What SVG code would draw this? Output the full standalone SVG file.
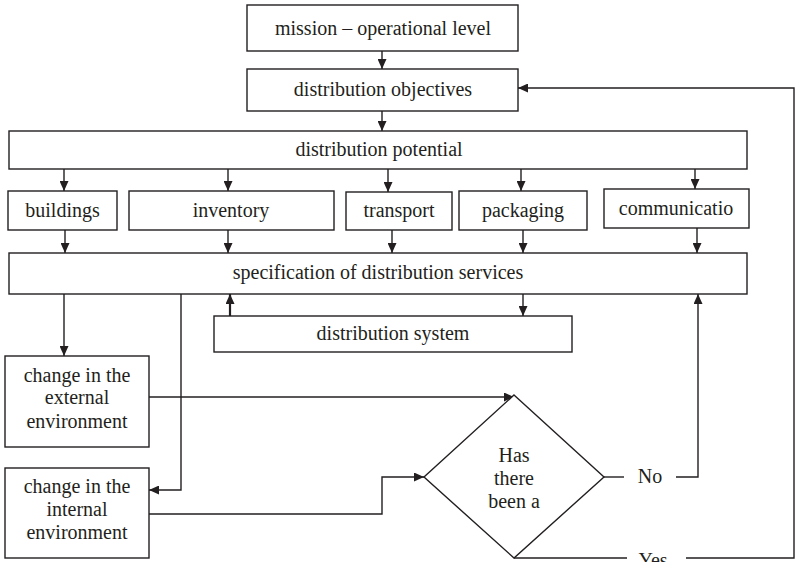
<svg xmlns="http://www.w3.org/2000/svg" width="796" height="562" viewBox="0 0 796 562">
<defs>
<marker id="ah" markerUnits="userSpaceOnUse" markerWidth="10" markerHeight="9" refX="10" refY="4.5" orient="auto">
<path d="M0,0 L10,4.5 L0,9 z" fill="#231f20"/>
</marker>
<style>
.box{fill:#fff;stroke:#231f20;stroke-width:1.4}
.t{font-family:'Liberation Serif','DejaVu Serif','Times New Roman',serif;font-size:20px;fill:#231f20;text-anchor:middle}
.c{fill:none;stroke:#231f20;stroke-width:1.4}
.ca{fill:none;stroke:#231f20;stroke-width:1.4;marker-end:url(#ah)}
</style>
</defs>
<rect width="796" height="562" fill="#fff"/>
<g id="connectors">
<path class="ca" d="M382,51 V69"/>
<path class="ca" d="M382,111 V131"/>
<path class="ca" d="M64,169 V191"/>
<path class="ca" d="M228,169 V191"/>
<path class="ca" d="M388,169 V192"/>
<path class="ca" d="M521,169 V191"/>
<path class="ca" d="M695,169 V189"/>
<path class="ca" d="M65,230 V253"/>
<path class="ca" d="M228,230 V253"/>
<path class="ca" d="M392,230 V253"/>
<path class="ca" d="M523,230 V253"/>
<path class="ca" d="M697,228 V253"/>
<path class="ca" d="M64,294 V356"/>
<path class="ca" d="M181,294 V490 H149"/>
<path class="ca" d="M230,316 V294" style="stroke-width:2.2"/>
<path class="ca" d="M523,294 V316"/>
<path class="ca" d="M149,397 H514"/>
<path class="ca" d="M149,514 H382 V477 H424"/>
<path class="c" d="M604,477 H624"/>
<path class="ca" d="M676,477 H698 V294"/>
<path class="c" d="M514,558 H627"/>
<path class="ca" d="M686,558 H794 V88 H518"/>
<text class="t" font-family="Liberation Serif, serif" x="650" y="483">No</text>
<text class="t" font-family="Liberation Serif, serif" x="653" y="567">Yes</text>
</g>
<g id="mission"><rect class="box" x="247" y="5" width="271" height="46"/><text class="t" x="383" y="35">mission – operational level</text></g>
<g id="objectives"><rect class="box" x="247" y="69" width="271" height="42"/><text class="t" x="383" y="96">distribution objectives</text></g>
<g id="potential"><rect class="box" x="9" y="131" width="738" height="38"/><text class="t" x="379" y="156">distribution potential</text></g>
<g id="buildings"><rect class="box" x="8" y="191" width="109" height="39"/><text class="t" x="62.5" y="217">buildings</text></g>
<g id="inventory"><rect class="box" x="129" y="191" width="205" height="39"/><text class="t" x="231" y="217">inventory</text></g>
<g id="transport"><rect class="box" x="346" y="192" width="106" height="38"/><text class="t" x="399" y="217">transport</text></g>
<g id="packaging"><rect class="box" x="459" y="191" width="128" height="39"/><text class="t" x="523" y="217">packaging</text></g>
<g id="communication"><rect class="box" x="604" y="189" width="145" height="39"/><text class="t" x="676" y="215">communicatio</text></g>
<g id="specification"><rect class="box" x="9" y="253" width="738" height="41"/><text class="t" x="378" y="279">specification of distribution services</text></g>
<g id="system"><rect class="box" x="214" y="316" width="358" height="36"/><text class="t" x="393" y="340">distribution system</text></g>
<g id="external"><rect class="box" x="5" y="356" width="144" height="91"/><text class="t" x="77" y="382">change in the</text><text class="t" x="77" y="404">external</text><text class="t" x="77" y="428">environment</text></g>
<g id="internal"><rect class="box" x="5" y="468" width="144" height="90"/><text class="t" x="77" y="493">change in the</text><text class="t" x="77" y="516">internal</text><text class="t" x="77" y="539">environment</text></g>
<g id="decision"><path class="box" d="M514,395 L604,477 L514,558 L424,477 Z"/><text class="t" x="514" y="462">Has</text><text class="t" x="514" y="485">there</text><text class="t" x="514" y="508">been a</text></g>
</svg>
